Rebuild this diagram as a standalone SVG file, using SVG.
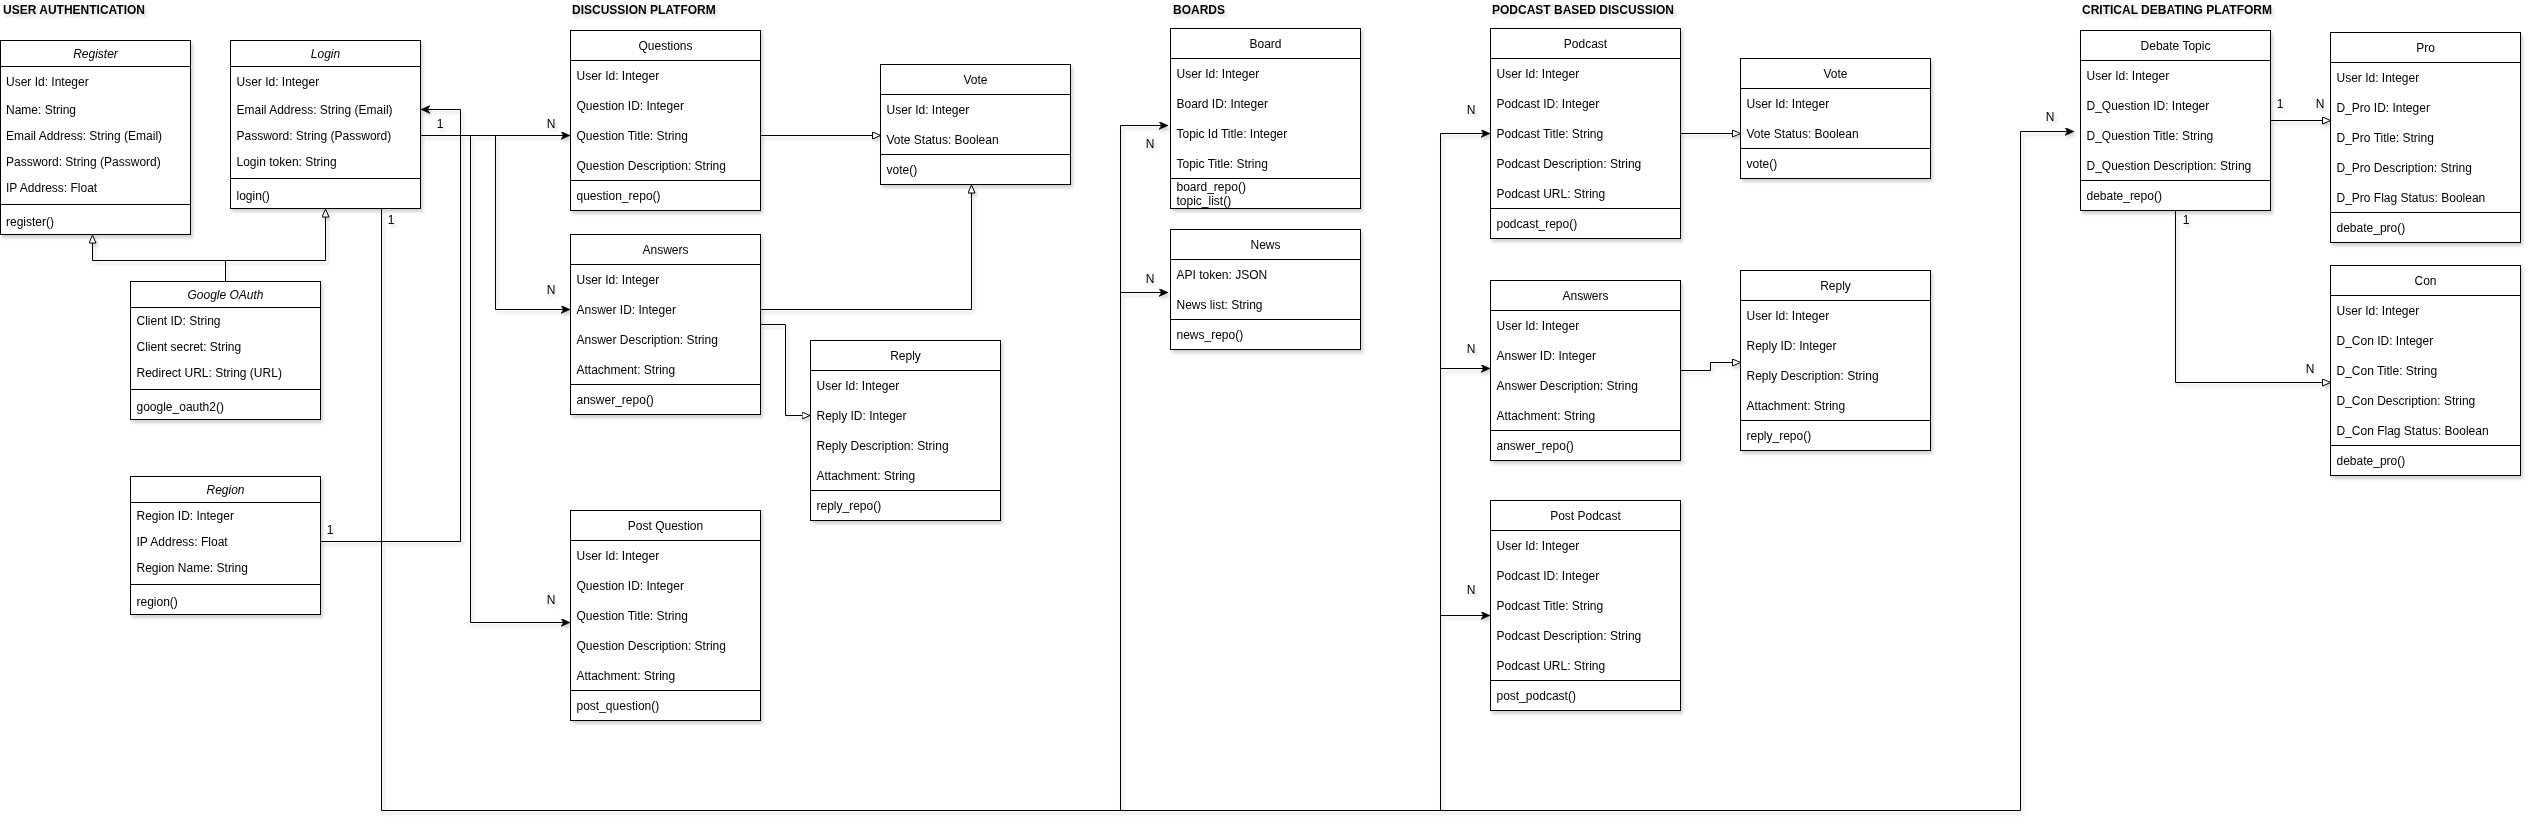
<svg xmlns="http://www.w3.org/2000/svg" width="2532" height="832" viewBox="0 0 2532 832">
<defs>
<style>
text{font-family:"Liberation Sans",Arial,Helvetica,sans-serif;font-size:12px;fill:#000}
.sec{font-weight:bold}
.hd{text-anchor:middle}
.it{font-style:italic}
.lbl{text-anchor:middle}
.box{fill:#fff;stroke:#000;stroke-width:1}
.ln{stroke:#000;stroke-width:1;fill:none}
.cn{stroke:#000;stroke-width:1;fill:none}
</style>
<filter id="sh" x="-10%" y="-10%" width="125%" height="125%">
<feDropShadow dx="2" dy="3" stdDeviation="1.5" flood-color="#333" flood-opacity="0.22"/>
</filter>
<marker id="fa" markerUnits="userSpaceOnUse" markerWidth="12" markerHeight="10" refX="9" refY="4" orient="auto">
<path d="M0,0 L9,4 L0,8 L2.5,4 Z" fill="#000" stroke="#000" stroke-width="0.6"/>
</marker>
<marker id="ha" markerUnits="userSpaceOnUse" markerWidth="12" markerHeight="10" refX="8.5" refY="4" orient="auto">
<path d="M0.5,0.5 L8.5,4 L0.5,7.5 Z" fill="#fff" stroke="#000" stroke-width="1"/>
</marker>
</defs>
<rect x="0" y="0" width="2532" height="832" fill="#fff"/>

<g id="section-titles" filter="url(#sh)">
<text class="sec" x="3" y="14">USER AUTHENTICATION</text>
<text class="sec" x="572" y="14">DISCUSSION PLATFORM</text>
<text class="sec" x="1173" y="14">BOARDS</text>
<text class="sec" x="1492" y="14">PODCAST BASED DISCUSSION</text>
<text class="sec" x="2082" y="14">CRITICAL DEBATING PLATFORM</text>
</g>

<g id="connectors" filter="url(#sh)">
<path class="cn" d="M225.5,281.5 V260.5 H92.5 V235" marker-end="url(#ha)"/>
<path class="cn" d="M225.5,260.5 H325.5 V209" marker-end="url(#ha)"/>
<path class="cn" d="M320.5,541.5 H460.5 V109.5 H421" marker-end="url(#fa)"/>
<path class="cn" d="M420.5,135.5 H570" marker-end="url(#fa)"/>
<path class="cn" d="M495.5,135.5 V309.5 H570" marker-end="url(#fa)"/>
<path class="cn" d="M470.5,135.5 V622.5 H570" marker-end="url(#fa)"/>
<path class="cn" d="M381.5,208.5 V810.5 H2020.5 V131.5 H2074" marker-end="url(#fa)"/>
<path class="cn" d="M1120.5,810.5 V125.5 H1168" marker-end="url(#fa)"/>
<path class="cn" d="M1120.5,292.5 H1168" marker-end="url(#fa)"/>
<path class="cn" d="M1440.5,810.5 V133.5 H1490" marker-end="url(#fa)"/>
<path class="cn" d="M1440.5,368.5 H1490" marker-end="url(#fa)"/>
<path class="cn" d="M1440.5,615.5 H1490" marker-end="url(#fa)"/>
<path class="cn" d="M760.5,135.5 H880.5" marker-end="url(#ha)"/>
<path class="cn" d="M760.5,309.5 H971.5 V185" marker-end="url(#ha)"/>
<path class="cn" d="M760.5,324.5 H785.5 V415.5 H810" marker-end="url(#ha)"/>
<path class="cn" d="M1680.5,133.5 H1740.5" marker-end="url(#ha)"/>
<path class="cn" d="M1680.5,370.5 H1710.5 V362.5 H1740.5" marker-end="url(#ha)"/>
<path class="cn" d="M2270.5,120.5 H2330.5" marker-end="url(#ha)"/>
<path class="cn" d="M2175.5,210.5 V382.5 H2330.5" marker-end="url(#ha)"/>
<text class="lbl" x="440" y="128">1</text>
<text class="lbl" x="391" y="224">1</text>
<text class="lbl" x="330" y="534">1</text>
<text class="lbl" x="551" y="128">N</text>
<text class="lbl" x="551" y="294">N</text>
<text class="lbl" x="551" y="604">N</text>
<text class="lbl" x="1150" y="148">N</text>
<text class="lbl" x="1150" y="283">N</text>
<text class="lbl" x="1471" y="114">N</text>
<text class="lbl" x="1471" y="353">N</text>
<text class="lbl" x="1471" y="594">N</text>
<text class="lbl" x="2050" y="121">N</text>
<text class="lbl" x="2280" y="108">1</text>
<text class="lbl" x="2320" y="108">N</text>
<text class="lbl" x="2186" y="224">1</text>
<text class="lbl" x="2310" y="373">N</text>
</g>

<g id="register" filter="url(#sh)">
<rect class="box" x="0.5" y="40.5" width="190" height="194"/>
<path class="ln" d="M0.5,66.5 H190.5 M0.5,204.5 H190.5"/>
<text class="hd it" x="95.5" y="57.5">Register</text>
<text x="6" y="86">User Id: Integer</text>
<text x="6" y="114">Name: String</text>
<text x="6" y="140">Email Address: String (Email)</text>
<text x="6" y="166">Password: String (Password)</text>
<text x="6" y="192">IP Address: Float</text>
<text x="6" y="226">register()</text>
</g>

<g id="login" filter="url(#sh)">
<rect class="box" x="230.5" y="40.5" width="190" height="168"/>
<path class="ln" d="M230.5,66.5 H420.5 M230.5,178.5 H420.5"/>
<text class="hd it" x="325.5" y="57.5">Login</text>
<text x="236.5" y="86">User Id: Integer</text>
<text x="236.5" y="114">Email Address: String (Email)</text>
<text x="236.5" y="140">Password: String (Password)</text>
<text x="236.5" y="166">Login token: String</text>
<text x="236.5" y="200">login()</text>
</g>

<g id="google-oauth" filter="url(#sh)">
<rect class="box" x="130.5" y="281.5" width="190" height="138"/>
<path class="ln" d="M130.5,307.5 H320.5 M130.5,389.5 H320.5"/>
<text class="hd it" x="225.5" y="299">Google OAuth</text>
<text x="136.5" y="325">Client ID: String</text>
<text x="136.5" y="351">Client secret: String</text>
<text x="136.5" y="377">Redirect URL: String (URL)</text>
<text x="136.5" y="411">google_oauth2()</text>
</g>

<g id="region" filter="url(#sh)">
<rect class="box" x="130.5" y="476.5" width="190" height="138"/>
<path class="ln" d="M130.5,502.5 H320.5 M130.5,584.5 H320.5"/>
<text class="hd it" x="225.5" y="494">Region</text>
<text x="136.5" y="520">Region ID: Integer</text>
<text x="136.5" y="546">IP Address: Float</text>
<text x="136.5" y="572">Region Name: String</text>
<text x="136.5" y="606">region()</text>
</g>

<g id="questions" filter="url(#sh)">
<rect class="box" x="570.5" y="30.5" width="190" height="180"/>
<path class="ln" d="M570.5,60.5 H760.5 M570.5,180.5 H760.5"/>
<text class="hd" x="665.5" y="50">Questions</text>
<text x="576.5" y="80">User Id: Integer</text>
<text x="576.5" y="110">Question ID: Integer</text>
<text x="576.5" y="140">Question Title: String</text>
<text x="576.5" y="170">Question Description: String</text>
<text x="576.5" y="200">question_repo()</text>
</g>

<g id="vote-discussion" filter="url(#sh)">
<rect class="box" x="880.5" y="64.5" width="190" height="120"/>
<path class="ln" d="M880.5,94.5 H1070.5 M880.5,154.5 H1070.5"/>
<text class="hd" x="975.5" y="84">Vote</text>
<text x="886.5" y="114">User Id: Integer</text>
<text x="886.5" y="144">Vote Status: Boolean</text>
<text x="886.5" y="174">vote()</text>
</g>

<g id="answers-discussion" filter="url(#sh)">
<rect class="box" x="570.5" y="234.5" width="190" height="180"/>
<path class="ln" d="M570.5,264.5 H760.5 M570.5,384.5 H760.5"/>
<text class="hd" x="665.5" y="254">Answers</text>
<text x="576.5" y="284">User Id: Integer</text>
<text x="576.5" y="314">Answer ID: Integer</text>
<text x="576.5" y="344">Answer Description: String</text>
<text x="576.5" y="374">Attachment: String</text>
<text x="576.5" y="404">answer_repo()</text>
</g>

<g id="reply-discussion" filter="url(#sh)">
<rect class="box" x="810.5" y="340.5" width="190" height="180"/>
<path class="ln" d="M810.5,370.5 H1000.5 M810.5,490.5 H1000.5"/>
<text class="hd" x="905.5" y="360">Reply</text>
<text x="816.5" y="390">User Id: Integer</text>
<text x="816.5" y="420">Reply ID: Integer</text>
<text x="816.5" y="450">Reply Description: String</text>
<text x="816.5" y="480">Attachment: String</text>
<text x="816.5" y="510">reply_repo()</text>
</g>

<g id="post-question" filter="url(#sh)">
<rect class="box" x="570.5" y="510.5" width="190" height="210"/>
<path class="ln" d="M570.5,540.5 H760.5 M570.5,690.5 H760.5"/>
<text class="hd" x="665.5" y="530">Post Question</text>
<text x="576.5" y="560">User Id: Integer</text>
<text x="576.5" y="590">Question ID: Integer</text>
<text x="576.5" y="620">Question Title: String</text>
<text x="576.5" y="650">Question Description: String</text>
<text x="576.5" y="680">Attachment: String</text>
<text x="576.5" y="710">post_question()</text>
</g>

<g id="board" filter="url(#sh)">
<rect class="box" x="1170.5" y="28.5" width="190" height="180"/>
<path class="ln" d="M1170.5,58.5 H1360.5 M1170.5,178.5 H1360.5"/>
<text class="hd" x="1265.5" y="48">Board</text>
<text x="1176.5" y="78">User Id: Integer</text>
<text x="1176.5" y="108">Board ID: Integer</text>
<text x="1176.5" y="138">Topic Id Title: Integer</text>
<text x="1176.5" y="168">Topic Title: String</text>
<text x="1176.5" y="190.5">board_repo()</text>
<text x="1176.5" y="204.5">topic_list()</text>
</g>

<g id="news" filter="url(#sh)">
<rect class="box" x="1170.5" y="229.5" width="190" height="120"/>
<path class="ln" d="M1170.5,259.5 H1360.5 M1170.5,319.5 H1360.5"/>
<text class="hd" x="1265.5" y="249">News</text>
<text x="1176.5" y="279">API token: JSON</text>
<text x="1176.5" y="309">News list: String</text>
<text x="1176.5" y="339">news_repo()</text>
</g>

<g id="podcast" filter="url(#sh)">
<rect class="box" x="1490.5" y="28.5" width="190" height="210"/>
<path class="ln" d="M1490.5,58.5 H1680.5 M1490.5,208.5 H1680.5"/>
<text class="hd" x="1585.5" y="48">Podcast</text>
<text x="1496.5" y="78">User Id: Integer</text>
<text x="1496.5" y="108">Podcast ID: Integer</text>
<text x="1496.5" y="138">Podcast Title: String</text>
<text x="1496.5" y="168">Podcast Description: String</text>
<text x="1496.5" y="198">Podcast URL: String</text>
<text x="1496.5" y="228">podcast_repo()</text>
</g>

<g id="vote-podcast" filter="url(#sh)">
<rect class="box" x="1740.5" y="58.5" width="190" height="120"/>
<path class="ln" d="M1740.5,88.5 H1930.5 M1740.5,148.5 H1930.5"/>
<text class="hd" x="1835.5" y="78">Vote</text>
<text x="1746.5" y="108">User Id: Integer</text>
<text x="1746.5" y="138">Vote Status: Boolean</text>
<text x="1746.5" y="168">vote()</text>
</g>

<g id="answers-podcast" filter="url(#sh)">
<rect class="box" x="1490.5" y="280.5" width="190" height="180"/>
<path class="ln" d="M1490.5,310.5 H1680.5 M1490.5,430.5 H1680.5"/>
<text class="hd" x="1585.5" y="300">Answers</text>
<text x="1496.5" y="330">User Id: Integer</text>
<text x="1496.5" y="360">Answer ID: Integer</text>
<text x="1496.5" y="390">Answer Description: String</text>
<text x="1496.5" y="420">Attachment: String</text>
<text x="1496.5" y="450">answer_repo()</text>
</g>

<g id="reply-podcast" filter="url(#sh)">
<rect class="box" x="1740.5" y="270.5" width="190" height="180"/>
<path class="ln" d="M1740.5,300.5 H1930.5 M1740.5,420.5 H1930.5"/>
<text class="hd" x="1835.5" y="290">Reply</text>
<text x="1746.5" y="320">User Id: Integer</text>
<text x="1746.5" y="350">Reply ID: Integer</text>
<text x="1746.5" y="380">Reply Description: String</text>
<text x="1746.5" y="410">Attachment: String</text>
<text x="1746.5" y="440">reply_repo()</text>
</g>

<g id="post-podcast" filter="url(#sh)">
<rect class="box" x="1490.5" y="500.5" width="190" height="210"/>
<path class="ln" d="M1490.5,530.5 H1680.5 M1490.5,680.5 H1680.5"/>
<text class="hd" x="1585.5" y="520">Post Podcast</text>
<text x="1496.5" y="550">User Id: Integer</text>
<text x="1496.5" y="580">Podcast ID: Integer</text>
<text x="1496.5" y="610">Podcast Title: String</text>
<text x="1496.5" y="640">Podcast Description: String</text>
<text x="1496.5" y="670">Podcast URL: String</text>
<text x="1496.5" y="700">post_podcast()</text>
</g>

<g id="debate-topic" filter="url(#sh)">
<rect class="box" x="2080.5" y="30.5" width="190" height="180"/>
<path class="ln" d="M2080.5,60.5 H2270.5 M2080.5,180.5 H2270.5"/>
<text class="hd" x="2175.5" y="50">Debate Topic</text>
<text x="2086.5" y="80">User Id: Integer</text>
<text x="2086.5" y="110">D_Question ID: Integer</text>
<text x="2086.5" y="140">D_Question Title: String</text>
<text x="2086.5" y="170">D_Question Description: String</text>
<text x="2086.5" y="200">debate_repo()</text>
</g>

<g id="pro" filter="url(#sh)">
<rect class="box" x="2330.5" y="32.5" width="190" height="210"/>
<path class="ln" d="M2330.5,62.5 H2520.5 M2330.5,212.5 H2520.5"/>
<text class="hd" x="2425.5" y="52">Pro</text>
<text x="2336.5" y="82">User Id: Integer</text>
<text x="2336.5" y="112">D_Pro ID: Integer</text>
<text x="2336.5" y="142">D_Pro Title: String</text>
<text x="2336.5" y="172">D_Pro Description: String</text>
<text x="2336.5" y="202">D_Pro Flag Status: Boolean</text>
<text x="2336.5" y="232">debate_pro()</text>
</g>

<g id="con" filter="url(#sh)">
<rect class="box" x="2330.5" y="265.5" width="190" height="210"/>
<path class="ln" d="M2330.5,295.5 H2520.5 M2330.5,445.5 H2520.5"/>
<text class="hd" x="2425.5" y="285">Con</text>
<text x="2336.5" y="315">User Id: Integer</text>
<text x="2336.5" y="345">D_Con ID: Integer</text>
<text x="2336.5" y="375">D_Con Title: String</text>
<text x="2336.5" y="405">D_Con Description: String</text>
<text x="2336.5" y="435">D_Con Flag Status: Boolean</text>
<text x="2336.5" y="465">debate_pro()</text>
</g>
</svg>
